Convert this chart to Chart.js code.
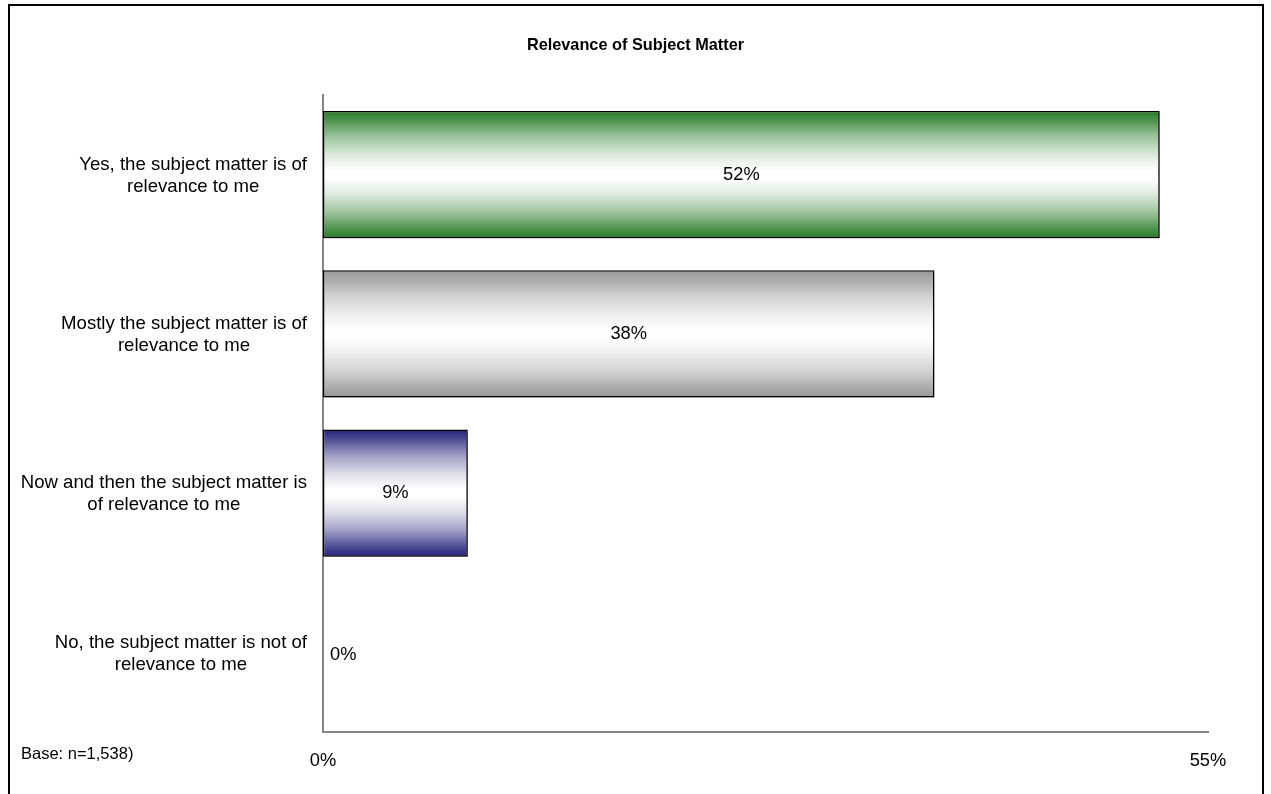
<!DOCTYPE html>
<html>
<head>
<meta charset="utf-8">
<title>Relevance of Subject Matter</title>
<script src="https://cdn.jsdelivr.net/npm/chart.js@4.4.1/dist/chart.umd.min.js"></script>
<style>
  html, body { margin: 0; padding: 0; background: #fff; overflow: hidden; }
  #wrap { position: relative; width: 1271px; height: 794px; }
  #frame {
    position: absolute; left: 8px; top: 4px; width: 1252px; height: 820px;
    border: 2px solid #000; pointer-events: none;
  }
  canvas { position: absolute; left: 0; top: 0; }
</style>
</head>
<body>
<div id="wrap">
  <canvas id="myChart" width="1271" height="794"></canvas>
  <div id="frame"></div>
</div>
<script>
const categories = [
  ['Yes, the subject matter is of', 'relevance to me'],
  ['Mostly the subject matter is of', 'relevance to me'],
  ['Now and then the subject matter is', 'of relevance to me'],
  ['No, the subject matter is not of', 'relevance to me']
];
const values = [52, 38, 9, 0];
const barColors = ['#247a24', '#979797', '#22227a', '#979797'];
const xTicks = [0, 55];
const chartTitle = 'Relevance of Subject Matter';
const baseNote = 'Base: n=1,538)';

const FONT = 'Arial, "Liberation Sans", sans-serif';
const AXIS_GREY = '#858585';

// mix a hex colour towards white
function toWhite(hex, t) {
  const n = parseInt(hex.slice(1), 16);
  const r = n >> 16, g = (n >> 8) & 255, b = n & 255;
  const m = c => Math.round(c + (255 - c) * t);
  return 'rgb(' + m(r) + ',' + m(g) + ',' + m(b) + ')';
}

// dark edges, white middle
function barFill(context) {
  const chart = context.chart;
  const area = chart.chartArea;
  const i = context.dataIndex || 0;
  const col = barColors[i];
  if (!area || context.type !== 'data') return col;
  const center = chart.scales.y.getPixelForValue(i);
  const half = (area.bottom - area.top) / categories.length * 0.8 / 2;
  const g = chart.ctx.createLinearGradient(0, center - half, 0, center + half);
  const stops = [[0, 0], [0.08, 0.2], [0.2, 0.55], [0.35, 0.85], [0.47, 1]];
  stops.forEach(([p, t]) => {
    g.addColorStop(p, toWhite(col, t));
    g.addColorStop(1 - p, toWhite(col, t));
  });
  return g;
}

// soft drop shadow under the bars
const barShadow = {
  id: 'barShadow',
  beforeDatasetsDraw(chart) {
    const c = chart.ctx;
    c.save();
    c.shadowColor = 'rgba(0,0,0,0.3)';
    c.shadowOffsetX = 2;
    c.shadowOffsetY = 2;
    c.shadowBlur = 1;
  },
  afterDatasetsDraw(chart) {
    chart.ctx.restore();
  }
};

// title, category labels, value labels and the base note
const textLayer = {
  id: 'textLayer',
  afterDraw(chart) {
    const c = chart.ctx;
    const y = chart.scales.y;
    const x = chart.scales.x;
    c.save();
    c.fillStyle = '#000';
    c.textBaseline = 'middle';

    c.font = 'bold 16.3px ' + FONT;
    c.textAlign = 'center';
    c.fillText(chartTitle, chart.width / 2, 46);

    c.font = '18.6px ' + FONT;
    categories.forEach((lines, i) => {
      const w = Math.max(...lines.map(l => c.measureText(l).width));
      const cx = 307 - w / 2;
      const cy = y.getPixelForValue(i);
      const lh = 22;
      lines.forEach((l, k) => {
        c.fillText(l, cx, cy + 1 + (k - (lines.length - 1) / 2) * lh);
      });
    });

    c.font = '18.3px ' + FONT;
    const meta = chart.getDatasetMeta(0);
    values.forEach((v, i) => {
      const bar = meta.data[i];
      const x0 = x.getPixelForValue(0);
      if (v === 0) {
        c.textAlign = 'left';
        c.fillText(v + '%', x0 + 7, bar.y + 3);
      } else {
        c.textAlign = 'center';
        c.fillText(v + '%', (x0 + bar.x) / 2, bar.y);
      }
    });

    c.font = '16.5px ' + FONT;
    c.textAlign = 'left';
    c.fillText(baseNote, 21, 754);
    c.restore();
  }
};

const ctx = document.getElementById('myChart').getContext('2d');
let myChart = new Chart(ctx, {
  type: 'bar',
  data: {
    labels: categories,
    datasets: [{
      data: values,
      backgroundColor: barFill,
      borderColor: '#000',
      borderWidth: c => (values[c.dataIndex] === 0 ? 0 : 1.5),
      borderSkipped: false,
      barPercentage: 1,
      categoryPercentage: 0.8
    }]
  },
  options: {
    indexAxis: 'y',
    responsive: false,
    animation: false,
    layout: { padding: { left: 323, right: 63, top: 95, bottom: 4 } },
    plugins: {
      legend: { display: false },
      tooltip: { enabled: false },
      title: { display: false }
    },
    scales: {
      x: {
        min: 0,
        max: 55,
        afterBuildTicks: scale => { scale.ticks = xTicks.map(v => ({ value: v })); },
        grid: { display: false, drawTicks: false },
        border: { display: true, color: AXIS_GREY, width: 2 },
        ticks: {
          color: '#000',
          font: { family: FONT, size: 18.3 },
          padding: 18,
          autoSkip: false,
          maxRotation: 0,
          callback: v => v + '%'
        }
      },
      y: {
        grid: { display: false, drawTicks: false },
        border: { display: true, color: AXIS_GREY, width: 2 },
        ticks: { display: false }
      }
    }
  },
  plugins: [barShadow, textLayer]
});
</script>
</body>
</html>
